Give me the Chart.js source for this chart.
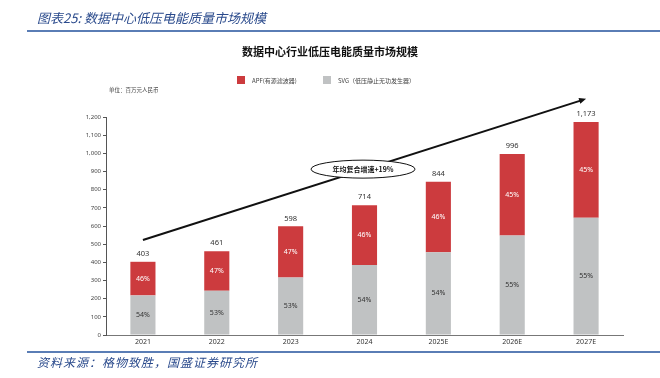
<!DOCTYPE html>
<html>
<head>
<meta charset="utf-8">
<script src="https://cdn.jsdelivr.net/npm/chart.js@4.4.1/dist/chart.umd.min.js"></script>
<style>
  body { margin:0; width:660px; height:378px; background:#fff; position:relative; overflow:hidden;
         font-family:"Noto Sans CJK SC","Noto Sans",sans-serif; }
  #wrap { position:absolute; left:0; top:0; width:660px; height:378px; }
  .t { position:absolute; white-space:nowrap; }
  #figTitle { left:37px; top:8px; font-size:13px; color:#2a4a8c; font-style:italic; }
  .rule { position:absolute; left:27px; right:0; height:2px; background:#5a7db5; }
  #chartTitle { left:0; width:660px; text-align:center; top:43px; font-size:11px; font-weight:bold; color:#111; }
  .box { position:absolute; width:8px; height:8px; }
  .lg { font-size:6px; color:#444; top:76px; }
  #unit { left:109px; top:86px; font-size:5.5px; color:#444; }
  #source { left:37px; top:353px; font-size:12px; color:#2a4a8c; font-style:italic; letter-spacing:1px; }
</style>
</head>
<body>
<div id="wrap"><canvas id="marketChart" width="660" height="378"></canvas></div>
<div class="t" id="figTitle">图表25: 数据中心低压电能质量市场规模</div>
<div class="rule" style="top:30px"></div>
<div class="t" id="chartTitle">数据中心行业低压电能质量市场规模</div>
<div class="box" style="left:237px; top:76px; background:#cc3b3e"></div>
<div class="t lg" style="left:252px">APF(有源滤波器)</div>
<div class="box" style="left:323px; top:76px; background:#c0c2c3"></div>
<div class="t lg" style="left:338px">SVG（低压静止无功发生器）</div>
<div class="t" id="unit">单位：百万元人民币</div>
<div class="rule" style="top:351px"></div>
<div class="t" id="source">资料来源：格物致胜，国盛证券研究所</div>

<script>
// categories and values (million RMB)
const years = ['2021', '2022', '2023', '2024', '2025E', '2026E', '2027E'];
const svgValues = [218, 244, 317, 386, 456, 548, 645];
const apfValues = [185, 217, 281, 328, 388, 448, 528];
const totals = [403, 461, 598, 714, 844, 996, 1173];
const svgShare = ['54%', '53%', '53%', '54%', '54%', '55%', '55%'];
const apfShare = ['46%', '47%', '47%', '46%', '46%', '45%', '45%'];
const cagrText = '年均复合增速+19%';

// labels on bars + growth arrow
const barLabels = {
    id: 'barLabels',
    afterDatasetsDraw(chart) {
        const ctx = chart.ctx;
        const x = chart.scales.x;
        const y = chart.scales.y;
        ctx.save();
        ctx.textAlign = 'center';
        ctx.textBaseline = 'middle';
        ctx.font = '7px "Noto Sans", sans-serif';

        chart.getDatasetMeta(0).data.forEach((bar, i) => {
            ctx.fillStyle = '#333';
            ctx.fillText(svgShare[i], bar.x, (bar.y + bar.base) / 2);
        });
        chart.getDatasetMeta(1).data.forEach((bar, i) => {
            ctx.fillStyle = '#fff';
            ctx.fillText(apfShare[i], bar.x, (bar.y + bar.base) / 2);
            ctx.fillStyle = '#333';
            ctx.font = '7.5px "Noto Sans", sans-serif';
            ctx.fillText(totals[i].toLocaleString('en-US'), bar.x, y.getPixelForValue(totals[i]) - 8);
            ctx.font = '7px "Noto Sans", sans-serif';
        });

        // arrow
        const x0 = x.getPixelForValue(0), y0 = y.getPixelForValue(523);
        const x1 = x.getPixelForValue(6), y1 = y.getPixelForValue(1300);
        ctx.strokeStyle = '#111';
        ctx.lineWidth = 2;
        ctx.beginPath();
        ctx.moveTo(x0, y0);
        ctx.lineTo(x1 - 4, y1 + 1.3);
        ctx.stroke();
        const ang = Math.atan2(y1 - y0, x1 - x0);
        ctx.fillStyle = '#111';
        ctx.beginPath();
        ctx.moveTo(x1, y1);
        ctx.lineTo(x1 - 7 * Math.cos(ang) + 3 * Math.sin(ang), y1 - 7 * Math.sin(ang) - 3 * Math.cos(ang));
        ctx.lineTo(x1 - 7 * Math.cos(ang) - 3 * Math.sin(ang), y1 - 7 * Math.sin(ang) + 3 * Math.cos(ang));
        ctx.closePath();
        ctx.fill();

        // ellipse with CAGR text
        const ex = x.getPixelForValue(2.98), ey = y.getPixelForValue(913);
        ctx.beginPath();
        ctx.ellipse(ex, ey, 52, 9, 0, 0, Math.PI * 2);
        ctx.fillStyle = '#fff';
        ctx.fill();
        ctx.lineWidth = 1;
        ctx.strokeStyle = '#111';
        ctx.stroke();
        ctx.fillStyle = '#111';
        ctx.font = 'bold 7px "Noto Sans CJK SC", sans-serif';
        ctx.fillText(cagrText, ex, ey);
        ctx.restore();
    }
};

new Chart(document.getElementById('marketChart'), {
    type: 'bar',
    data: {
        labels: years,
        datasets: [
            { label: 'SVG', data: svgValues, backgroundColor: '#c0c2c3', barPercentage: 0.34, categoryPercentage: 1 },
            { label: 'APF', data: apfValues, backgroundColor: '#cc3b3e', barPercentage: 0.34, categoryPercentage: 1 }
        ]
    },
    options: {
        responsive: false,
        animation: false,
        layout: { padding: { left: 66, right: 37, top: 117, bottom: 28 } },
        plugins: { legend: { display: false }, tooltip: { enabled: false } },
        scales: {
            x: {
                stacked: true,
                grid: { display: false, drawTicks: false },
                border: { color: '#777', width: 1 },
                ticks: { color: '#333', font: { size: 7, family: '"Noto Sans", sans-serif' }, padding: 3 },
                afterFit: s => { s.height = 15; }
            },
            y: {
                stacked: true,
                min: 0,
                max: 1200,
                ticks: { stepSize: 100, color: '#444', font: { size: 6, family: '"Noto Sans", sans-serif' }, padding: 2 },
                grid: { drawOnChartArea: false, drawTicks: true, tickLength: 3, color: '#555' },
                border: { color: '#555', width: 1 },
                afterFit: s => { s.width = 40; }
            }
        }
    },
    plugins: [barLabels]
});
</script>
</body>
</html>
